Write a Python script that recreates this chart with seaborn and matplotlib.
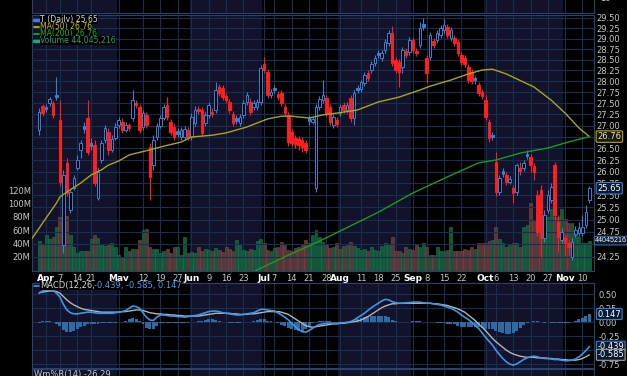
import numpy as np
import pandas as pd
import seaborn as sns
import matplotlib.pyplot as plt
from matplotlib.ticker import NullLocator

# Daily candles, 28 Mar - 12 Nov 2014 (one entry per trading day)
opens = [26.90, 27.44, 27.42, 27.51, 27.51, 27.69, 27.13, 24.48, 26.19, 25.20,
         25.65, 26.08, 26.47, 27.00, 27.17, 26.62, 26.58, 25.44, 26.25, 26.68,
         26.86, 26.47, 26.73, 27.02, 27.08, 26.90, 27.02, 27.17, 27.51, 27.42,
         26.97, 27.24, 26.53, 26.14, 26.75, 27.00, 27.17, 27.46, 27.08, 26.97,
         26.88, 26.75, 26.75, 26.90, 26.75, 27.06, 27.37, 27.35, 27.06, 27.24,
         27.30, 27.35, 27.87, 27.85, 27.66, 27.53, 27.26, 27.17, 27.06, 27.24,
         27.53, 27.53, 27.42, 27.42, 27.53, 28.40, 28.21, 27.69, 27.85, 27.71,
         27.73, 27.42, 27.24, 26.86, 26.73, 26.71, 26.68, 26.62, 27.17, 27.08,
         25.65, 27.42, 27.57, 27.62, 27.42, 27.02, 27.13, 27.28, 27.46, 27.35,
         27.62, 27.17, 27.85, 27.83, 27.96, 28.19, 28.26, 28.42, 28.66, 28.54,
         28.73, 28.89, 29.13, 28.49, 28.45, 28.33, 28.71, 28.68, 28.97, 28.71,
         28.85, 29.35, 28.54, 28.56, 28.94, 28.97, 29.08, 29.20, 29.28, 29.01,
         29.01, 28.92, 28.61, 28.54, 28.33, 28.21, 28.08, 27.92, 27.76, 27.57,
         27.08, 26.79, 26.21, 25.57, 26.02, 25.93, 25.78, 25.65, 25.57, 26.08,
         26.08, 26.38, 26.32, 26.12, 25.51, 25.61, 24.62, 25.20, 25.40, 26.14,
         24.95, 24.58, 24.62, 24.52, 24.24, 24.70, 24.72, 24.72, 24.89, 25.40]
highs = [27.39, 27.48, 27.48, 27.64, 27.55, 28.10, 27.57, 26.04, 26.29, 25.65,
         25.93, 26.36, 26.68, 27.08, 27.57, 26.73, 26.68, 26.08, 26.68, 27.02,
         26.95, 26.79, 27.06, 27.19, 27.17, 27.08, 27.06, 27.80, 27.57, 27.48,
         27.35, 27.30, 26.62, 26.79, 27.06, 27.24, 27.48, 27.64, 27.15, 27.04,
         26.95, 26.97, 27.00, 26.97, 27.28, 27.44, 27.44, 27.42, 27.30, 27.53,
         27.39, 27.98, 27.94, 27.92, 27.73, 27.60, 27.33, 27.24, 27.26, 27.57,
         27.75, 27.62, 27.57, 27.60, 28.38, 28.56, 28.28, 27.83, 27.92, 27.78,
         27.80, 27.48, 27.30, 26.93, 26.79, 26.77, 26.75, 26.68, 27.24, 27.21,
         27.48, 27.66, 28.03, 27.69, 27.48, 27.26, 27.19, 27.48, 27.53, 27.53,
         27.69, 27.80, 27.92, 28.03, 28.21, 28.26, 28.47, 28.61, 28.73, 28.73,
         28.99, 29.20, 29.30, 28.56, 28.52, 28.80, 28.78, 29.04, 29.04, 28.78,
         29.40, 29.49, 28.61, 29.16, 29.01, 29.20, 29.32, 29.47, 29.35, 29.28,
         29.08, 28.99, 28.68, 28.61, 28.40, 28.28, 28.12, 27.98, 27.83, 27.69,
         27.15, 26.86, 26.42, 25.93, 26.08, 26.00, 25.91, 25.72, 26.19, 26.21,
         26.25, 26.47, 26.38, 26.19, 25.61, 25.72, 25.20, 25.61, 25.76, 26.21,
         25.09, 24.83, 24.68, 24.58, 24.62, 24.87, 24.95, 25.09, 25.30, 25.70]
lows = [26.79, 27.21, 27.30, 27.44, 27.17, 27.57, 25.70, 24.32, 25.49, 25.13,
        25.61, 26.04, 26.29, 26.84, 26.36, 26.47, 25.70, 25.40, 26.19, 26.62,
        26.36, 26.42, 26.68, 26.95, 26.84, 26.86, 26.88, 27.10, 27.39, 26.84,
        26.90, 26.95, 25.40, 26.04, 26.68, 26.95, 27.13, 27.13, 26.79, 26.68,
        26.75, 26.68, 26.68, 26.68, 26.68, 27.00, 27.26, 26.77, 27.00, 27.17,
        27.19, 27.28, 27.66, 27.57, 27.51, 27.28, 27.00, 27.04, 27.00, 27.17,
        27.46, 27.24, 27.35, 27.35, 27.46, 28.19, 27.62, 27.62, 27.73, 27.57,
        27.44, 27.21, 26.55, 26.55, 26.51, 26.47, 26.42, 26.40, 27.02, 27.04,
        25.57, 27.35, 27.51, 27.21, 27.02, 26.95, 26.97, 27.21, 27.28, 27.28,
        27.08, 27.02, 27.73, 27.76, 27.89, 28.01, 28.19, 28.35, 28.54, 28.47,
        28.66, 28.82, 28.35, 28.19, 27.87, 28.19, 28.54, 28.61, 28.66, 28.59,
        28.78, 29.20, 27.96, 28.49, 28.78, 28.89, 29.01, 29.13, 29.01, 28.94,
        28.82, 28.59, 28.38, 28.33, 27.96, 27.94, 27.94, 27.66, 27.60, 27.13,
        26.64, 26.68, 25.49, 25.51, 25.89, 25.72, 25.74, 25.34, 25.51, 25.93,
        26.02, 26.27, 26.00, 25.82, 24.66, 24.24, 24.54, 25.13, 25.34, 24.99,
        24.34, 24.52, 24.28, 24.28, 24.18, 24.64, 24.66, 24.66, 24.83, 25.34]
closes = [27.30, 27.28, 27.37, 27.60, 27.24, 27.64, 25.78, 25.93, 25.55, 25.57,
          25.87, 26.25, 26.62, 26.93, 26.42, 26.55, 25.76, 26.00, 26.62, 26.95,
          26.47, 26.71, 26.97, 27.13, 26.90, 27.02, 26.95, 27.57, 27.46, 26.90,
          27.28, 27.02, 25.89, 26.68, 27.00, 27.17, 27.42, 27.19, 26.86, 26.75,
          26.81, 26.90, 26.93, 26.75, 27.19, 27.35, 27.33, 26.84, 27.24, 27.46,
          27.26, 27.80, 27.73, 27.64, 27.57, 27.35, 27.06, 27.10, 27.19, 27.51,
          27.69, 27.30, 27.51, 27.53, 28.31, 28.26, 27.69, 27.76, 27.80, 27.64,
          27.51, 27.28, 26.64, 26.62, 26.60, 26.58, 26.53, 26.47, 27.10, 27.15,
          27.42, 27.60, 27.69, 27.28, 27.08, 27.19, 27.04, 27.42, 27.35, 27.46,
          27.17, 27.73, 27.80, 27.98, 28.15, 28.08, 28.40, 28.54, 28.61, 28.66,
          28.92, 29.13, 28.42, 28.26, 28.21, 28.73, 28.61, 28.97, 28.73, 28.66,
          29.25, 29.28, 28.19, 29.08, 28.85, 29.13, 29.25, 29.32, 29.08, 29.20,
          28.89, 28.66, 28.45, 28.40, 28.03, 28.01, 28.03, 27.73, 27.66, 27.19,
          26.73, 26.75, 25.57, 25.87, 25.95, 25.78, 25.84, 25.55, 26.14, 26.02,
          26.19, 26.34, 26.14, 26.00, 24.75, 24.62, 25.09, 25.51, 25.67, 25.09,
          24.64, 24.75, 24.52, 24.44, 24.54, 24.79, 24.83, 24.85, 25.15, 25.65]
volume_m = [44, 37, 52, 47, 50, 64, 79, 57, 81, 53,
            34, 26, 28, 29, 29, 47, 52, 48, 38, 36,
            37, 41, 35, 23, 20, 34, 28, 31, 31, 45,
            60, 61, 35, 32, 32, 26, 28, 31, 26, 34,
            34, 23, 50, 26, 27, 26, 35, 29, 31, 30,
            28, 33, 30, 27, 35, 32, 29, 45, 38, 30,
            28, 32, 30, 44, 46, 40, 30, 28, 33, 35,
            42, 38, 30, 28, 33, 35, 38, 45, 40, 52,
            60, 50, 42, 38, 33, 35, 40, 32, 36, 38,
            42, 36, 33, 30, 32, 28, 34, 30, 28, 36,
            40, 38, 50, 28, 28, 26, 34, 31, 30, 38,
            35, 41, 35, 23, 23, 34, 28, 28, 30, 64,
            28, 29, 28, 31, 30, 35, 32, 41, 40, 41,
            43, 45, 65, 46, 40, 35, 37, 40, 41, 34,
            64, 67, 101, 73, 98, 65, 53, 79, 91, 80,
            80, 91, 76, 71, 71, 58, 49, 41, 41, 44.045216]
macd = [0.52, 0.56, 0.57, 0.58, 0.57, 0.52, 0.45, 0.32, 0.22, 0.17,
        0.15, 0.15, 0.16, 0.17, 0.18, 0.18, 0.17, 0.16, 0.16, 0.16,
        0.16, 0.16, 0.17, 0.18, 0.19, 0.21, 0.25, 0.29, 0.28, 0.25,
        0.17, 0.09, 0.04, 0.03, 0.09, 0.13, 0.13, 0.12, 0.11, 0.11,
        0.10, 0.10, 0.09, 0.10, 0.11, 0.12, 0.13, 0.15, 0.17, 0.19,
        0.20, 0.20, 0.19, 0.17, 0.16, 0.15, 0.14, 0.13, 0.13, 0.14,
        0.15, 0.16, 0.17, 0.20, 0.23, 0.23, 0.22, 0.21, 0.20, 0.17,
        0.13, 0.09, 0.04, -0.02, -0.08, -0.13, -0.17, -0.18, -0.15, -0.11,
        -0.07, -0.04, -0.03, -0.02, -0.02, -0.02, -0.02, -0.01, -0.01, 0.00,
        0.01, 0.04, 0.08, 0.12, 0.16, 0.21, 0.26, 0.30, 0.34, 0.38,
        0.41, 0.40, 0.37, 0.35, 0.34, 0.34, 0.35, 0.35, 0.36, 0.36,
        0.36, 0.35, 0.34, 0.34, 0.33, 0.32, 0.31, 0.29, 0.27, 0.25,
        0.22, 0.18, 0.13, 0.09, 0.05, 0.00, -0.06, -0.11, -0.19, -0.27,
        -0.34, -0.41, -0.50, -0.58, -0.65, -0.71, -0.75, -0.77, -0.75, -0.71,
        -0.67, -0.64, -0.62, -0.61, -0.62, -0.64, -0.65, -0.65, -0.66, -0.67,
        -0.67, -0.68, -0.69, -0.69, -0.68, -0.66, -0.62, -0.57, -0.51, -0.439]
signal = [0.53, 0.54, 0.55, 0.56, 0.56, 0.55, 0.52, 0.46, 0.40, 0.35,
          0.31, 0.28, 0.25, 0.23, 0.22, 0.21, 0.20, 0.19, 0.18, 0.18,
          0.18, 0.18, 0.18, 0.18, 0.19, 0.19, 0.20, 0.21, 0.22, 0.22,
          0.21, 0.19, 0.17, 0.16, 0.15, 0.15, 0.14, 0.14, 0.13, 0.13,
          0.12, 0.12, 0.11, 0.11, 0.11, 0.11, 0.11, 0.12, 0.13, 0.14,
          0.15, 0.16, 0.16, 0.16, 0.16, 0.16, 0.15, 0.15, 0.14, 0.14,
          0.14, 0.15, 0.15, 0.16, 0.17, 0.18, 0.19, 0.19, 0.19, 0.19,
          0.18, 0.16, 0.14, 0.10, 0.06, 0.02, -0.02, -0.06, -0.08, -0.09,
          -0.08, -0.07, -0.06, -0.05, -0.04, -0.03, -0.03, -0.02, -0.02, -0.01,
          0.00, 0.01, 0.02, 0.04, 0.07, 0.10, 0.14, 0.18, 0.22, 0.26,
          0.29, 0.31, 0.33, 0.33, 0.34, 0.34, 0.34, 0.34, 0.34, 0.34,
          0.34, 0.34, 0.34, 0.34, 0.33, 0.33, 0.32, 0.31, 0.30, 0.28,
          0.26, 0.24, 0.21, 0.18, 0.13, 0.08, 0.03, -0.03, -0.09, -0.15,
          -0.22, -0.29, -0.35, -0.40, -0.45, -0.50, -0.54, -0.57, -0.59, -0.61,
          -0.62, -0.63, -0.63, -0.63, -0.64, -0.64, -0.64, -0.65, -0.65, -0.66,
          -0.66, -0.67, -0.67, -0.68, -0.68, -0.68, -0.67, -0.65, -0.62, -0.585]

# moving averages read at points along the lines (day index, price)
ma50_day = [-2, 1, 5, 6, 8, 12, 15, 18, 20, 23, 26, 32, 36, 41, 44, 50, 54, 60, 66, 70,
            73, 78, 82, 86, 92, 98, 104, 110, 113, 119, 124, 128, 131, 135, 143, 148, 152, 156, 159]
ma50_val = [24.62, 24.93, 25.34, 25.47, 25.57, 25.76, 25.93, 26.04, 26.14, 26.23,
            26.36, 26.47, 26.55, 26.64, 26.75, 26.79, 26.84, 26.97, 27.15, 27.21,
            27.21, 27.17, 27.24, 27.28, 27.35, 27.53, 27.64, 27.80, 27.89, 28.03,
            28.17, 28.26, 28.28, 28.17, 27.87, 27.57, 27.28, 26.95, 26.76]
ma200_day = [61, 63, 72, 81, 98, 108, 118, 127, 132, 139, 147, 152, 159]
ma200_val = [23.89, 23.99, 24.28, 24.56, 25.15, 25.55, 25.89, 26.19, 26.25, 26.40, 26.51, 26.62, 26.76]

tick_day = [2, 6, 11, 15, 23, 30, 35, 40, 44, 49, 54, 59, 65, 68, 73, 78, 83, 87, 93, 98,
            103, 108, 112, 117, 122, 129, 132, 137, 142, 147, 152, 157]
tick_text = ["Apr", "7", "14", "21", "May", "12", "19", "27", "Jun", "9", "16", "23",
             "Jul", "7", "14", "21", "28", "Aug", "11", "18", "25", "Sep", "8", "15", "22",
             "Oct", "6", "13", "20", "27", "Nov", "10"]
months = ["Apr", "May", "Jun", "Jul", "Aug", "Sep", "Oct", "Nov"]
shaded = [(-3, 22.5), (43.5, 64.5), (86.5, 107.5), (128.5, 151.5)]

price_ticks = [24.25 + 0.25 * i for i in range(22)]
vol_ticks = [20, 40, 60, 80, 100, 120]
macd_ticks = [0.5, 0.25, 0.0, -0.25, -0.5, -0.75]
# tick labels that sit under the value badges
hidden = {"26.75", "24.50", "-0.50"}

BG = "#000000"
BAND = "#12122a"
GRID = "#172f4f"
EDGE = "#24446e"
BLUE = "#3b7fd4"
RED = "#ff1f1f"
TXT = "#c8c8c8"

sns.set_theme(style="dark", rc={"axes.facecolor": BG, "figure.facecolor": BG,
                                "axes.edgecolor": EDGE, "text.color": TXT,
                                "xtick.color": TXT, "ytick.color": TXT})
plt.rcParams["font.family"] = ["DejaVu Sans"]
plt.rcParams["font.size"] = 6

W, H = 627, 376
fig = plt.figure(figsize=(W / 100, H / 100), dpi=100)


def rect(y0, y1):
    return [32 / W, 1 - y1 / H, 562 / W, (y1 - y0) / H]


XL = (-2.08, 160.35)


def base(a, ticks=True):
    a.set_facecolor(BG)
    a.set_xlim(*XL)
    for lo, hi in shaded:
        a.axvspan(lo, hi, color=BAND, lw=0, zorder=0)
    if ticks:
        for d in tick_day:
            a.axvline(d, color=GRID, lw=0.8, zorder=0.5)
    for s in a.spines.values():
        s.set_color(EDGE)
        s.set_linewidth(0.8)
    a.tick_params(length=0, labelsize=6, colors=TXT)


def labels(vals, fmt):
    out = []
    for v in vals:
        s = fmt.format(v)
        out.append("" if s in hidden else s)
    return out


k = np.arange(len(closes))
o = np.array(opens)
c = np.array(closes)
prev = np.r_[c[0] - 0.01, c[:-1]]
up = c >= prev
col = np.where(up, BLUE, RED)
hollow = c > o

# panel above (cut off) and bottom Williams %R panel
ax_top = fig.add_axes(rect(-6, 13))
base(ax_top)
ax_top.set_xticks([])
ax_top.set_yticks([])
ax_top.text(1.01, 0.75, "10", transform=ax_top.transAxes, color=TXT, fontsize=6, va="center")

ax_wr = fig.add_axes(rect(369, 400))
base(ax_wr)
ax_wr.set_xticks([])
ax_wr.set_yticks([])
ax_wr.text(0.004, 0.96, "Wm%R(14) -26.29", transform=ax_wr.transAxes, color=TXT,
           fontsize=6, va="top")

# volume underneath
ax_vol = fig.add_axes(rect(15, 271))
base(ax_vol)
vcol = np.where(up, "#13573a", "#573737")
vedge = np.where(up, "#1e7a50", "#7a4b4b")
ax_vol.bar(k, np.array(volume_m) * 1e6, width=0.85, color=vcol, edgecolor=vedge,
           lw=0.4, zorder=1)
ax_vol.set_ylim(-1.5e6, 382.5e6)
ax_vol.set_yticks([v * 1e6 for v in vol_ticks])
ax_vol.set_yticklabels([f"{v}M" for v in vol_ticks])
ax_vol.tick_params(axis="y", pad=1)
ax_vol.set_xticks([])

# price candles on top
ax = fig.add_axes(rect(15, 271))
ax.patch.set_alpha(0)
ax.set_xlim(*XL)
ax.set_yscale("log")
ax.set_ylim(23.967, 29.565)
for p in price_ticks:
    ax.axhline(p, color=GRID, lw=0.8, zorder=0.5)
ax.vlines(k, lows, highs, colors=col, lw=0.8, zorder=2)
body = np.maximum(np.abs(c - o), 0.02)
ax.bar(k, body, bottom=np.minimum(o, c), width=0.74,
       color=np.where(hollow, BG, col), edgecolor=col, lw=0.7, zorder=3)
sns.lineplot(x=ma50_day, y=ma50_val, ax=ax, color="#aaa41e", lw=1.0, zorder=4,
             estimator=None, sort=False)
sns.lineplot(x=ma200_day, y=ma200_val, ax=ax, color="#1f9a1f", lw=1.0, zorder=4,
             estimator=None, sort=False)
ax.yaxis.tick_right()
ax.yaxis.set_minor_locator(NullLocator())
ax.set_yticks(price_ticks)
ax.set_yticklabels(labels(price_ticks, "{:.2f}"))
ax.set_xticks(tick_day)
ax.set_xticklabels(tick_text)
ax.set_xlabel("")
ax.set_ylabel("")
for s in ax.spines.values():
    s.set_visible(False)
ax.tick_params(length=0, labelsize=6, colors=TXT, pad=2)
ax.tick_params(axis="x", pad=2)
for t in ax.get_xticklabels():
    if t.get_text() in months:
        t.set_fontweight("bold")
        t.set_color("#ffffff")
        t.set_fontsize(6.5)

# price badges
yt = ax.get_yaxis_transform()
ax.text(1.006, 26.76, "26.76", transform=yt, fontsize=6, va="center", color="#e0e0e0",
        bbox=dict(boxstyle="round,pad=0.15", fc="#1a1a00", ec="#b0a820", lw=0.8), zorder=10)
ax.text(1.006, 25.65, "25.65", transform=yt, fontsize=6, va="center", color="#ffffff",
        bbox=dict(boxstyle="round,pad=0.15", fc="#0a1a30", ec=BLUE, lw=0.8), zorder=10)
vt = ax_vol.get_yaxis_transform()
ax_vol.text(1.002, 44.045216e6, "44045216", transform=vt, fontsize=5.1, va="center",
            color="#ffffff", clip_on=False, family=["Liberation Sans", "DejaVu Sans"],
            bbox=dict(boxstyle="round,pad=0.12", fc="#0a1a30", ec="#3a6aa0", lw=0.8))

# MACD panel
ax_m = fig.add_axes(rect(283, 368))
base(ax_m)
hist = np.array(macd) - np.array(signal)
ax_m.bar(k, hist, width=0.85, color="#2e6aa6", lw=0, zorder=2)
for v in macd_ticks:
    ax_m.axhline(v, color=GRID, lw=0.8, zorder=0.5)
sns.lineplot(x=k, y=signal, ax=ax_m, color="#b4b4b4", lw=1.0, zorder=3)
sns.lineplot(x=k, y=macd, ax=ax_m, color="#3c96e6", lw=1.2, zorder=4)
ax_m.set_xlim(*XL)
ax_m.set_ylim(-0.821, 0.703)
ax_m.yaxis.tick_right()
ax_m.set_yticks(macd_ticks)
ax_m.set_yticklabels(labels(macd_ticks, "{:.2f}"))
ax_m.set_xticks([])
ax_m.set_xlabel("")
ax_m.set_ylabel("")
mt = ax_m.get_yaxis_transform()
for val, txt, ec in [(0.147, "0.147", BLUE), (-0.439, "-0.439", BLUE), (-0.585, "-0.585", "#a0a0a0")]:
    ax_m.text(1.006, val, txt, transform=mt, fontsize=6, va="center", color="#ffffff",
              bbox=dict(boxstyle="round,pad=0.12", fc="#0a1a30", ec=ec, lw=0.8), zorder=10)


# legends in the top-left corners
def px(x, y):
    return x / W, 1 - y / H


box = dict(fc=BG, ec="none", pad=0.2)
legend = [("T (Daily) 25.65", "#d8d8d8", 19.5), ("MA(50) 26.76", "#c8c020", 26.5),
          ("MA(200) 26.76", "#22b022", 33.5), ("Volume 44,045,216", "#1fa878", 40.5)]
for txt, cc, yy in legend:
    fig.text(*px(40, yy), txt, color=cc, fontsize=5.6, va="center", bbox=box)
fig.add_artist(plt.Line2D([34 / W, 38.5 / W], [1 - 19.5 / H] * 2, color=BLUE, lw=2.5))
fig.add_artist(plt.Line2D([34 / W, 38.5 / W], [1 - 26.5 / H] * 2, color="#c8c020", lw=1.2))
fig.add_artist(plt.Line2D([34 / W, 38.5 / W], [1 - 33.5 / H] * 2, color="#22b022", lw=1.2))
fig.add_artist(plt.Line2D([34 / W, 38.5 / W], [1 - 40.5 / H] * 2, color="#1fa878", lw=2.5))

fig.text(*px(40, 285.5), "MACD(12,26,9)", color="#d8d8d8", fontsize=6, va="center", bbox=box)
fig.text(*px(94, 285.5), "-0.439, -0.585, 0.147", color="#4aa0e8", fontsize=6, va="center",
         bbox=box)
fig.add_artist(plt.Line2D([34 / W, 38.5 / W], [1 - 285.5 / H] * 2, color="#3c96e6", lw=1.2))

fig.savefig("out.png", dpi=100, facecolor=BG)
